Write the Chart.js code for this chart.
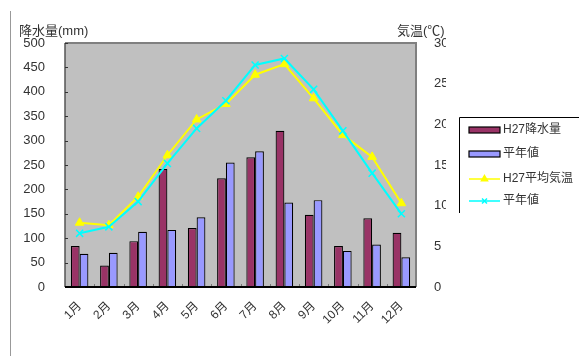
<!DOCTYPE html>
<html><head><meta charset="utf-8">
<script src="https://cdn.jsdelivr.net/npm/chart.js@4"></script>
<style>html,body{margin:0;padding:0;background:#fff}#wrap{width:579px;height:356px}</style>
</head><body><div id="wrap"><canvas id="c" width="579" height="356"></canvas></div>
<script>
const months = ['1月','2月','3月','4月','5月','6月','7月','8月','9月','10月','11月','12月'];
const rainH27 = [84,44,94,242,121,223,266,320,148,84,141,111];
const rainNormal = [68,70,113,117,143,255,278,173,178,74,87,61];
const tempH27 = [7.9,7.6,11.1,16.2,20.6,22.5,26.1,27.4,23.2,18.7,16.0,10.3];
const tempNormal = [6.6,7.4,10.5,15.2,19.5,22.9,27.3,28.1,24.3,19.2,14.0,9.0];
const seriesLabels = ['H27降水量','平年値','H27平均気温','平年値'];
const rainAxisTitle = '降水量(mm)';
const tempAxisTitle = '気温(℃)';

const FONT = "'Liberation Sans','Noto Sans CJK JP',sans-serif";
const TXT = '#333';

const decor = {
  id: 'decor',
  beforeDraw(chart) {
    const {ctx, chartArea: a} = chart;
    ctx.save();
    ctx.fillStyle = '#c0c0c0';
    ctx.fillRect(a.left, a.top, a.right - a.left, a.bottom - a.top);
    ctx.strokeStyle = '#808080';
    ctx.lineWidth = 2;
    ctx.beginPath();
    ctx.moveTo(a.left, a.top); ctx.lineTo(a.right, a.top); ctx.lineTo(a.right, a.bottom);
    ctx.stroke();
    ctx.strokeStyle = '#555';
    ctx.lineWidth = 1.5;
    ctx.beginPath();
    ctx.moveTo(a.left, a.top); ctx.lineTo(a.left, a.bottom);
    ctx.stroke();
    // inner tick marks on left axis
    const yL = chart.scales.yL;
    ctx.strokeStyle = '#333';
    ctx.lineWidth = 1;
    yL.ticks.forEach(t => {
      const y = Math.round(yL.getPixelForValue(t.value)) + 0.5;
      ctx.beginPath(); ctx.moveTo(a.left, y); ctx.lineTo(a.left + 3, y); ctx.stroke();
    });
    // inner tick marks at category boundaries on x axis
    const x = chart.scales.x;
    ctx.strokeStyle = '#777';
    for (let i = 1; i < months.length; i++) {
      const px = Math.round((x.getPixelForValue(i - 1) + x.getPixelForValue(i)) / 2) + 0.5;
      ctx.beginPath(); ctx.moveTo(px, a.bottom); ctx.lineTo(px, a.bottom - 3); ctx.stroke();
    }
    // outer chart border (left)
    ctx.strokeStyle = '#999';
    ctx.lineWidth = 1;
    ctx.beginPath();
    ctx.moveTo(10.5, 11); ctx.lineTo(10.5, 356);
    ctx.stroke();
    // axis titles
    ctx.fillStyle = TXT;
    ctx.font = '13px ' + FONT;
    ctx.textBaseline = 'middle';
    ctx.textAlign = 'left';
    ctx.fillText(rainAxisTitle, 19, 31);
    ctx.fillText(tempAxisTitle, 397, 31);
    ctx.restore();
  },
  afterDraw(chart) {
    const {ctx, chartArea: a} = chart;
    ctx.save();
    ctx.strokeStyle = '#000';
    ctx.lineWidth = 2;
    ctx.beginPath();
    ctx.moveTo(a.left, a.bottom); ctx.lineTo(a.right, a.bottom);
    ctx.stroke();
    // legend
    ctx.lineWidth = 1;
    ctx.strokeStyle = '#000';
    ctx.beginPath();
    ctx.moveTo(459.5, 213); ctx.lineTo(459.5, 117.5); ctx.lineTo(579, 117.5);
    ctx.stroke();
    const rows = [130, 154, 179, 201];
    const ds = chart.data.datasets;
    ctx.font = '12px ' + FONT;
    ctx.textBaseline = 'middle';
    ctx.textAlign = 'left';
    rows.forEach((y, i) => {
      const d = ds[i];
      if (d.type === 'line') {
        ctx.strokeStyle = d.borderColor;
        ctx.lineWidth = 1.5;
        ctx.beginPath();
        ctx.moveTo(469, y); ctx.lineTo(500, y);
        ctx.stroke();
        ctx.fillStyle = d.pointBackgroundColor;
        ctx.strokeStyle = d.pointBorderColor;
        Chart.helpers.drawPoint(ctx, {pointStyle: d.pointStyle, radius: 3.5, rotation: 0, borderWidth: 1.2}, 484.5, y);
      } else {
        ctx.fillStyle = d.backgroundColor;
        ctx.fillRect(469, y - 3, 31, 6);
        ctx.strokeStyle = '#000';
        ctx.lineWidth = 1.2;
        ctx.strokeRect(469, y - 3, 31, 6);
      }
      ctx.fillStyle = TXT;
      ctx.fillText(d.label, 503, y);
    });
    ctx.restore();
  }
};

new Chart(document.getElementById('c'), {
  type: 'bar',
  data: {
    labels: months,
    datasets: [
      {type: 'bar', label: seriesLabels[0], data: rainH27, yAxisID: 'yL', backgroundColor: '#993366', borderColor: '#000', borderWidth: 1.2, categoryPercentage: 0.6, barPercentage: 1.0, order: 2},
      {type: 'bar', label: seriesLabels[1], data: rainNormal, yAxisID: 'yL', backgroundColor: '#9999ff', borderColor: '#000', borderWidth: 1.2, categoryPercentage: 0.6, barPercentage: 1.0, order: 2},
      {type: 'line', label: seriesLabels[2], data: tempH27, yAxisID: 'yR', borderColor: '#ffff00', borderWidth: 2, pointStyle: 'triangle', pointRadius: 5, pointBackgroundColor: '#ffff00', pointBorderColor: '#ffff00', pointBorderWidth: 1, tension: 0, order: 1},
      {type: 'line', label: seriesLabels[3], data: tempNormal, yAxisID: 'yR', borderColor: '#00ffff', borderWidth: 2, pointStyle: 'crossRot', pointRadius: 5, pointBackgroundColor: '#00ffff', pointBorderColor: '#00ffff', pointBorderWidth: 1.5, tension: 0, order: 0}
    ]
  },
  options: {
    responsive: false,
    animation: false,
    devicePixelRatio: 1,
    layout: {padding: {left: 0, right: 133, top: 43, bottom: 0}},
    plugins: {legend: {display: false}, tooltip: {enabled: false}},
    scales: {
      x: {
        offset: true,
        grid: {display: false},
        border: {display: false},
        ticks: {color: TXT, font: {family: FONT, size: 12}, minRotation: 45, maxRotation: 45, padding: 4},
        afterFit(s) { s.height = 69; }
      },
      yL: {
        position: 'left', min: 0, max: 500,
        grid: {display: false},
        border: {display: false},
        ticks: {stepSize: 50, color: TXT, font: {family: FONT, size: 13}, padding: 12},
        afterFit(s) { s.width = 65; }
      },
      yR: {
        position: 'right', min: 0, max: 30,
        grid: {display: false},
        border: {display: false},
        ticks: {stepSize: 5, color: TXT, font: {family: FONT, size: 13}, padding: 10},
        afterFit(s) { s.width = 30; }
      }
    }
  },
  plugins: [decor]
});
</script></body></html>
